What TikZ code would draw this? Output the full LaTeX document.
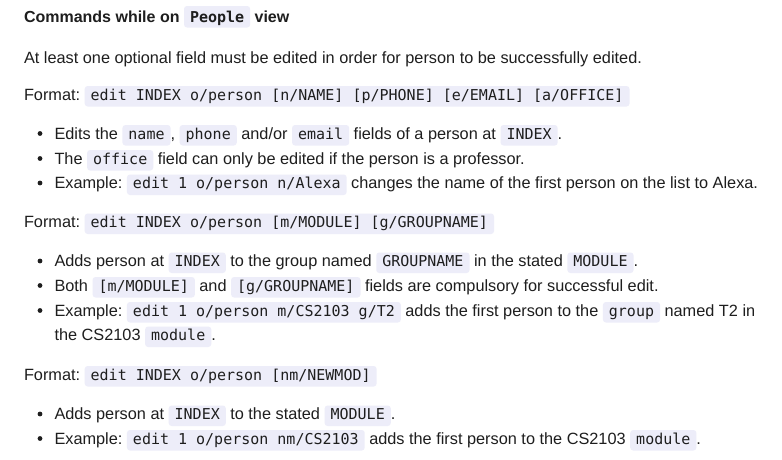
\documentclass[tikz,border=0pt]{standalone}
\usepackage{fontspec}
\setmainfont{Liberation Sans}
\setmonofont{DejaVu Sans Mono}
\definecolor{codebg}{HTML}{EDEDF9}
\definecolor{ink}{HTML}{1E1E1E}
\newcommand\mysanstxt{\fontsize{16.3pt}{20pt}\selectfont}
\newcommand\mytitletxt{\fontsize{16pt}{20pt}\selectfont\bfseries}
\newcommand\mymonotxt{\fontsize{15pt}{18pt}\selectfont\ttfamily}
\newcommand\tsp{\ \mbox{}}
\tikzset{
  txt/.style={anchor=base west, inner sep=0pt, outer sep=0pt, font=\mysanstxt, text=ink},
  ttl/.style={txt, font=\mytitletxt},
  cd/.style={anchor=base west, inner xsep=6pt, inner ysep=0pt, outer sep=0pt, fill=codebg,
    rounded corners=3pt, text height=14pt, text depth=6.5pt, font=\mymonotxt, text=ink},
  cdt/.style={cd, font=\mymonotxt\bfseries, text height=16pt, text depth=5.5pt},
  bul/.style={circle, fill=ink, inner sep=0pt, minimum size=4.8pt}
}
\begin{document}
\begin{tikzpicture}[x=1pt, y=-1pt]
\useasboundingbox[fill=white] (0,0) rectangle (782,459);

% Title
\node[ttl] (h1) at (24,22) {Commands while on\tsp};
\node[cdt] (h2) at (h1.base east) {People};
\node[ttl] (h3) at (h2.base east) {\ view};

% Intro
\node[txt] (p1) at (24,63) {At least one optional field must be edited in order for person to be successfully edited.};

% Format 1
\node[txt] (f1a) at (24,100) {Format:\tsp};
\node[cd] (f1b) at (f1a.base east) {edit INDEX o/person [n/NAME] [p/PHONE] [e/EMAIL] [a/OFFICE]};

% Bullets 1
\node[bul] (b11) at (40,133.5) {};
\node[txt] (l11a) at (54.5,139) {Edits the\tsp};
\node[cd] (l11b) at (l11a.base east) {name};
\node[txt] (l11c) at (l11b.base east) {,\tsp};
\node[cd] (l11d) at (l11c.base east) {phone};
\node[txt] (l11e) at (l11d.base east) {\ and/or\tsp};
\node[cd] (l11f) at (l11e.base east) {email};
\node[txt] (l11g) at (l11f.base east) {\ fields of a person at\tsp};
\node[cd] (l11h) at (l11g.base east) {INDEX};
\node[txt] (l11i) at (l11h.base east) {.};

\node[bul] (b12) at (40,158.5) {};
\node[txt] (l12a) at (54.5,164) {The\tsp};
\node[cd] (l12b) at (l12a.base east) {office};
\node[txt] (l12c) at (l12b.base east) {\ field can only be edited if the person is a professor.};

\node[bul] (b13) at (40,183) {};
\node[txt] (l13a) at (54.5,188.5) {Example:\tsp};
\node[cd] (l13b) at (l13a.base east) {edit 1 o/person n/Alexa};
\node[txt] (l13c) at (l13b.base east) {\ changes the name of the first person on the list to Alexa.};

% Format 2
\node[txt] (f2a) at (24,227.5) {Format:\tsp};
\node[cd] (f2b) at (f2a.base east) {edit INDEX o/person [m/MODULE] [g/GROUPNAME]};

% Bullets 2
\node[bul] (b21) at (40,261) {};
\node[txt] (l21a) at (54.5,266.5) {Adds person at\tsp};
\node[cd] (l21b) at (l21a.base east) {INDEX};
\node[txt] (l21c) at (l21b.base east) {\ to the group named\tsp};
\node[cd] (l21d) at (l21c.base east) {GROUPNAME};
\node[txt] (l21e) at (l21d.base east) {\ in the stated\tsp};
\node[cd] (l21f) at (l21e.base east) {MODULE};
\node[txt] (l21g) at (l21f.base east) {.};

\node[bul] (b22) at (40,285.5) {};
\node[txt] (l22a) at (54.5,291) {Both\tsp};
\node[cd] (l22b) at (l22a.base east) {[m/MODULE]};
\node[txt] (l22c) at (l22b.base east) {\ and\tsp};
\node[cd] (l22d) at (l22c.base east) {[g/GROUPNAME]};
\node[txt] (l22e) at (l22d.base east) {\ fields are compulsory for successful edit.};

\node[bul] (b23) at (40,310.5) {};
\node[txt] (l23a) at (54.5,316) {Example:\tsp};
\node[cd] (l23b) at (l23a.base east) {edit 1 o/person m/CS2103 g/T2};
\node[txt] (l23c) at (l23b.base east) {\ adds the first person to the\tsp};
\node[cd] (l23d) at (l23c.base east) {group};
\node[txt] (l23e) at (l23d.base east) {\ named T2 in};
\node[txt] (l24a) at (54.5,340.5) {the CS2103\tsp};
\node[cd] (l24b) at (l24a.base east) {module};
\node[txt] (l24c) at (l24b.base east) {.};

% Format 3
\node[txt] (f3a) at (24,380) {Format:\tsp};
\node[cd] (f3b) at (f3a.base east) {edit INDEX o/person [nm/NEWMOD]};

% Bullets 3
\node[bul] (b31) at (40,414) {};
\node[txt] (l31a) at (54.5,419.5) {Adds person at\tsp};
\node[cd] (l31b) at (l31a.base east) {INDEX};
\node[txt] (l31c) at (l31b.base east) {\ to the stated\tsp};
\node[cd] (l31d) at (l31c.base east) {MODULE};
\node[txt] (l31e) at (l31d.base east) {.};

\node[bul] (b32) at (40,438.5) {};
\node[txt] (l32a) at (54.5,444) {Example:\tsp};
\node[cd] (l32b) at (l32a.base east) {edit 1 o/person nm/CS2103};
\node[txt] (l32c) at (l32b.base east) {\ adds the first person to the CS2103\tsp};
\node[cd] (l32d) at (l32c.base east) {module};
\node[txt] (l32e) at (l32d.base east) {.};
\end{tikzpicture}
\end{document}
